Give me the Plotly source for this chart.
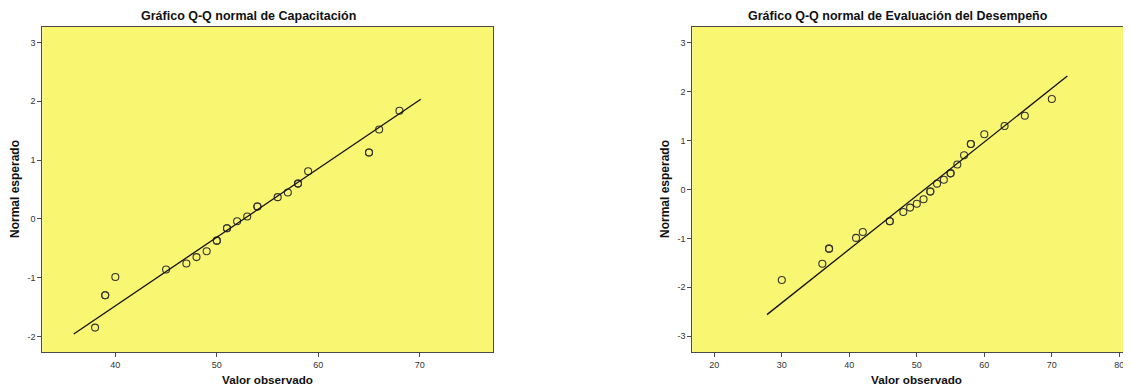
import plotly.graph_objects as go

# ---- Data: Capacitación ----
cap_obs = [38, 39, 39, 40, 45, 47, 48, 49, 50, 50, 51, 51, 52, 53, 54, 54, 56, 57, 58, 58, 59, 65, 65, 66, 68]
cap_exp = [-1.85, -1.30, -1.30, -0.99, -0.86, -0.76, -0.65, -0.55, -0.37, -0.37, -0.16, -0.16, -0.04, 0.04,
           0.21, 0.21, 0.37, 0.45, 0.60, 0.60, 0.81, 1.13, 1.13, 1.52, 1.84]
cap_mean = 52.67
cap_sd = 8.56
cap_line_x = [35.9, 70.1]

# ---- Data: Evaluación del Desempeño ----
eva_obs = [30, 36, 37, 37, 41, 42, 46, 46, 48, 49, 50, 51, 52, 52, 53, 54, 55, 55, 56, 57, 58, 58, 60, 63, 66, 70]
eva_exp = [-1.85, -1.52, -1.21, -1.21, -0.99, -0.87, -0.65, -0.65, -0.46, -0.37, -0.29, -0.20, -0.04, -0.04,
           0.12, 0.20, 0.33, 0.33, 0.51, 0.70, 0.93, 0.93, 1.13, 1.30, 1.51, 1.85]
eva_mean = 51.14
eva_sd = 9.12
eva_line_x = [27.8, 72.3]

cap_xticks = [40, 50, 60, 70]
cap_yticks = [-2, -1, 0, 1, 2, 3]
eva_xticks = [20, 30, 40, 50, 60, 70, 80]
eva_yticks = [-3, -2, -1, 0, 1, 2, 3]

# page body has an 8px margin; work in window pixels and convert
OFF = 8
W, H = 1131 - OFF, 387 - OFF
px = lambda v: (v - OFF) / W
py = lambda v: 1 - (v - OFF) / H

FONT = "Liberation Sans, Arial, sans-serif"
BG = "#F9F671"
AXC = "#4a4a4a"

fig = go.Figure()

marker = dict(symbol="circle-open", size=7, color="#333333", line=dict(width=1.1, color="#333333"))

fig.add_trace(go.Scatter(x=cap_obs, y=cap_exp, mode="markers", marker=marker,
                         xaxis="x", yaxis="y", showlegend=False))
fig.add_trace(go.Scatter(x=cap_line_x, y=[(v - cap_mean) / cap_sd for v in cap_line_x], mode="lines",
                         line=dict(color="#111111", width=1.3), xaxis="x", yaxis="y", showlegend=False))
fig.add_trace(go.Scatter(x=eva_obs, y=eva_exp, mode="markers", marker=marker,
                         xaxis="x2", yaxis="y2", showlegend=False))
fig.add_trace(go.Scatter(x=eva_line_x, y=[(v - eva_mean) / eva_sd for v in eva_line_x], mode="lines",
                         line=dict(color="#111111", width=1.3), xaxis="x2", yaxis="y2", showlegend=False))

ydom = [py(352.3), py(26.7)]
common_ax = dict(showgrid=False, zeroline=False, showline=True, linecolor=AXC, linewidth=1,
                 ticks="outside", ticklen=4, tickcolor=AXC, tickwidth=1,
                 tickfont=dict(family=FONT, size=9, color="#333333"))

lab = lambda vals: [str(v) for v in vals]

fig.update_layout(
    width=W, height=H,
    margin=dict(l=0, r=0, t=0, b=0),
    paper_bgcolor="white",
    plot_bgcolor=BG,
    xaxis=dict(domain=[px(42.3), px(493.3)], range=[32.8, 77.25], tickvals=cap_xticks, ticktext=lab(cap_xticks),
               mirror=True, anchor="y", **common_ax),
    yaxis=dict(domain=ydom, range=[-2.27, 3.27], tickvals=cap_yticks, ticktext=lab(cap_yticks),
               mirror=True, anchor="x", **common_ax),
    xaxis2=dict(domain=[px(692.3), 1.0], range=[16.74, 81.73], tickvals=eva_xticks, ticktext=lab(eva_xticks),
                mirror=True, anchor="y2", **common_ax),
    yaxis2=dict(domain=ydom, range=[-3.33, 3.33], tickvals=eva_yticks, ticktext=lab(eva_yticks),
                mirror=False, anchor="x2", **common_ax),
)

def note(text, x, y, size, angle=0):
    return dict(text=text, x=px(x), y=py(y), xref="paper", yref="paper", showarrow=False,
                xanchor="center", yanchor="middle", textangle=angle, borderpad=0,
                font=dict(family=FONT, size=size, color="#111111"))

ann = [
    note("<b>Gráfico Q-Q normal de Capacitación</b>", 248, 15.5, 12.5),
    note("<b>Gráfico Q-Q normal de Evaluación del Desempeño</b>", 897.5, 15.5, 12.5),
    note("<b>Valor observado</b>", 267.7, 379, 11.7),
    note("<b>Valor observado</b>", 916.7, 379, 11.7),
    note("<b>Normal esperado</b>", 15.5, 189.5, 12, -90),
    note("<b>Normal esperado</b>", 665.5, 189.5, 12, -90),
]
fig.update_layout(annotations=ann)

fig.write_html("out.html")
